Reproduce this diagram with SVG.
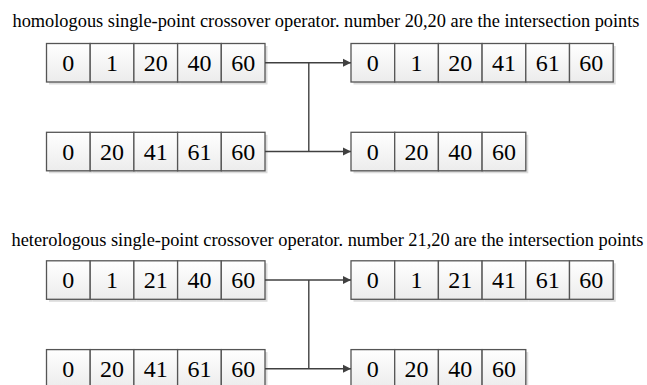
<svg xmlns="http://www.w3.org/2000/svg" width="647" height="385" viewBox="0 0 647 385">
  <defs>
    <linearGradient id="cellFill" x1="0" y1="0" x2="0" y2="1">
      <stop offset="0" stop-color="#ffffff"/>
      <stop offset="1" stop-color="#ececec"/>
    </linearGradient>
    <marker id="arrow" viewBox="0 0 10 10" refX="10" refY="5" markerWidth="8.5" markerHeight="10" markerUnits="userSpaceOnUse" orient="auto">
      <path d="M0,0 L10,5 L0,10 Z" fill="#404040"/>
    </marker>
    <!-- one cell of an array, 43.7 x 38.5, with a soft drop shadow -->
    <g id="cell">
      <rect x="2.5" y="2.5" width="43.7" height="38.5" fill="#dcdcdc"/>
      <rect x="0" y="0" width="43.7" height="38.5" fill="url(#cellFill)" stroke="#555555" stroke-width="1.3"/>
    </g>
  </defs>
  <style>
    text { font-family: 'Liberation Serif', 'Times New Roman', serif; fill: #000000; }
    .title { font-size: 18.2px; }
    .num { font-size: 24px; text-anchor: middle; }
    .wire { fill: none; stroke: #404040; stroke-width: 1.4; }
  </style>
  <rect width="647" height="385" fill="#ffffff"/>

  <!-- section 1: homologous crossover -->
  <text class="title" x="12.5" y="27.3" textLength="627" lengthAdjust="spacingAndGlyphs">homologous single-point crossover operator. number 20,20 are the intersection points</text>

  <g id="parent-a1">
    <use href="#cell" x="46.5" y="43.5"/><use href="#cell" x="90.2" y="43.5"/><use href="#cell" x="133.9" y="43.5"/><use href="#cell" x="177.6" y="43.5"/><use href="#cell" x="221.3" y="43.5"/>
    <text class="num" x="68.35" y="70.8">0</text><text class="num" x="112.05" y="70.8">1</text><text class="num" x="155.75" y="70.8">20</text><text class="num" x="199.45" y="70.8">40</text><text class="num" x="243.15" y="70.8">60</text>
  </g>
  <g id="parent-b1">
    <use href="#cell" x="46.5" y="132.3"/><use href="#cell" x="90.2" y="132.3"/><use href="#cell" x="133.9" y="132.3"/><use href="#cell" x="177.6" y="132.3"/><use href="#cell" x="221.3" y="132.3"/>
    <text class="num" x="68.35" y="159.6">0</text><text class="num" x="112.05" y="159.6">20</text><text class="num" x="155.75" y="159.6">41</text><text class="num" x="199.45" y="159.6">61</text><text class="num" x="243.15" y="159.6">60</text>
  </g>
  <g id="child-a1">
    <use href="#cell" x="351" y="43.5"/><use href="#cell" x="394.7" y="43.5"/><use href="#cell" x="438.4" y="43.5"/><use href="#cell" x="482.1" y="43.5"/><use href="#cell" x="525.8" y="43.5"/><use href="#cell" x="569.5" y="43.5"/>
    <text class="num" x="372.85" y="70.8">0</text><text class="num" x="416.55" y="70.8">1</text><text class="num" x="460.25" y="70.8">20</text><text class="num" x="503.95" y="70.8">41</text><text class="num" x="547.65" y="70.8">61</text><text class="num" x="591.35" y="70.8">60</text>
  </g>
  <g id="child-b1">
    <use href="#cell" x="351" y="132.3"/><use href="#cell" x="394.7" y="132.3"/><use href="#cell" x="438.4" y="132.3"/><use href="#cell" x="482.1" y="132.3"/>
    <text class="num" x="372.85" y="159.6">0</text><text class="num" x="416.55" y="159.6">20</text><text class="num" x="460.25" y="159.6">40</text><text class="num" x="503.95" y="159.6">60</text>
  </g>

  <!-- section 2: heterologous crossover -->
  <text class="title" x="11.5" y="245.5" textLength="632" lengthAdjust="spacingAndGlyphs">heterologous single-point crossover operator. number 21,20 are the intersection points</text>

  <g id="parent-a2">
    <use href="#cell" x="46.5" y="260.8"/><use href="#cell" x="90.2" y="260.8"/><use href="#cell" x="133.9" y="260.8"/><use href="#cell" x="177.6" y="260.8"/><use href="#cell" x="221.3" y="260.8"/>
    <text class="num" x="68.35" y="288.1">0</text><text class="num" x="112.05" y="288.1">1</text><text class="num" x="155.75" y="288.1">21</text><text class="num" x="199.45" y="288.1">40</text><text class="num" x="243.15" y="288.1">60</text>
  </g>
  <g id="parent-b2">
    <use href="#cell" x="46.5" y="349.6"/><use href="#cell" x="90.2" y="349.6"/><use href="#cell" x="133.9" y="349.6"/><use href="#cell" x="177.6" y="349.6"/><use href="#cell" x="221.3" y="349.6"/>
    <text class="num" x="68.35" y="376.9">0</text><text class="num" x="112.05" y="376.9">20</text><text class="num" x="155.75" y="376.9">41</text><text class="num" x="199.45" y="376.9">61</text><text class="num" x="243.15" y="376.9">60</text>
  </g>
  <g id="child-a2">
    <use href="#cell" x="351" y="260.8"/><use href="#cell" x="394.7" y="260.8"/><use href="#cell" x="438.4" y="260.8"/><use href="#cell" x="482.1" y="260.8"/><use href="#cell" x="525.8" y="260.8"/><use href="#cell" x="569.5" y="260.8"/>
    <text class="num" x="372.85" y="288.1">0</text><text class="num" x="416.55" y="288.1">1</text><text class="num" x="460.25" y="288.1">21</text><text class="num" x="503.95" y="288.1">41</text><text class="num" x="547.65" y="288.1">61</text><text class="num" x="591.35" y="288.1">60</text>
  </g>
  <g id="child-b2">
    <use href="#cell" x="351" y="349.6"/><use href="#cell" x="394.7" y="349.6"/><use href="#cell" x="438.4" y="349.6"/><use href="#cell" x="482.1" y="349.6"/>
    <text class="num" x="372.85" y="376.9">0</text><text class="num" x="416.55" y="376.9">20</text><text class="num" x="460.25" y="376.9">40</text><text class="num" x="503.95" y="376.9">60</text>
  </g>

  <!-- crossover connectors -->
  <g id="connectors" class="wire">
    <path d="M265,62.7 H351" marker-end="url(#arrow)"/>
    <path d="M265,151.5 H351" marker-end="url(#arrow)"/>
    <path d="M308.8,62.7 V151.5"/>
    <path d="M265,280 H351" marker-end="url(#arrow)"/>
    <path d="M265,368.8 H351" marker-end="url(#arrow)"/>
    <path d="M308.8,280 V368.8"/>
  </g>
</svg>
